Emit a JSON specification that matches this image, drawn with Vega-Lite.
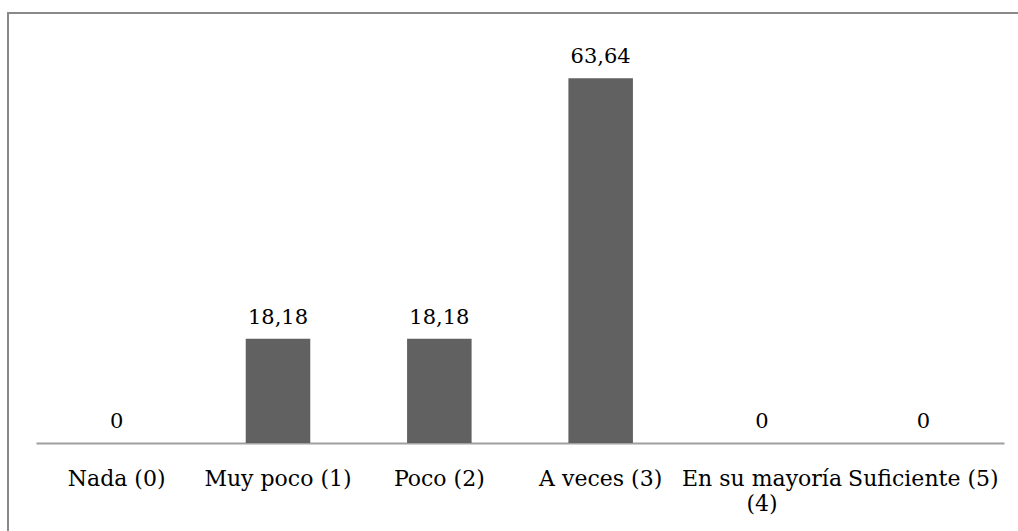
{
  "$schema": "https://vega.github.io/schema/vega-lite/v6.json",
  "width": 1020,
  "height": 530,
  "autosize": {"type": "none"},
  "padding": {"left": 8, "top": 13, "right": 0, "bottom": 0},
  "background": "white",
  "config": {
    "locale": {"number": {"decimal": ",", "thousands": ".", "grouping": [3], "currency": ["", " €"]}},
    "view": {"stroke": "#898989", "strokeWidth": 2},
    "font": "DejaVu Serif"
  },
  "data": {
    "values": [
      {"categoria": "Nada (0)", "porcentaje": 0},
      {"categoria": "Muy poco (1)", "porcentaje": 18.18},
      {"categoria": "Poco (2)", "porcentaje": 18.18},
      {"categoria": "A veces (3)", "porcentaje": 63.64},
      {"categoria": "En su mayoría (4)", "porcentaje": 0},
      {"categoria": "Suficiente (5)", "porcentaje": 0}
    ]
  },
  "encoding": {
    "x": {
      "field": "categoria",
      "type": "nominal",
      "sort": null,
      "scale": {"range": [28, 996], "paddingInner": 0.6, "paddingOuter": 0.3},
      "axis": {
        "title": null,
        "orient": "bottom",
        "offset": -100,
        "ticks": false,
        "tickSize": 0,
        "domainColor": "#a0a0a0",
        "domainWidth": 2,
        "labelAngle": 0,
        "labelFont": "DejaVu Serif",
        "labelFontSize": 22,
        "labelColor": "#000000",
        "labelBaseline": "alphabetic",
        "labelPadding": 42,
        "labelLineHeight": 25,
        "labelLimit": 0,
        "labelExpr": "datum.label == 'En su mayoría (4)' ? ['En su mayoría', '(4)'] : datum.label"
      }
    },
    "y": {
      "field": "porcentaje",
      "type": "quantitative",
      "scale": {"domain": [0, 75], "range": [430, 0], "nice": false, "zero": true},
      "axis": null
    }
  },
  "layer": [
    {
      "mark": {"type": "bar", "color": "#616161"}
    },
    {
      "mark": {
        "type": "text",
        "baseline": "alphabetic",
        "align": "center",
        "dy": -15,
        "font": "DejaVu Serif",
        "fontSize": 21,
        "color": "#000000"
      },
      "encoding": {
        "text": {"field": "porcentaje", "type": "quantitative", "format": ".2~f"}
      }
    }
  ]
}
